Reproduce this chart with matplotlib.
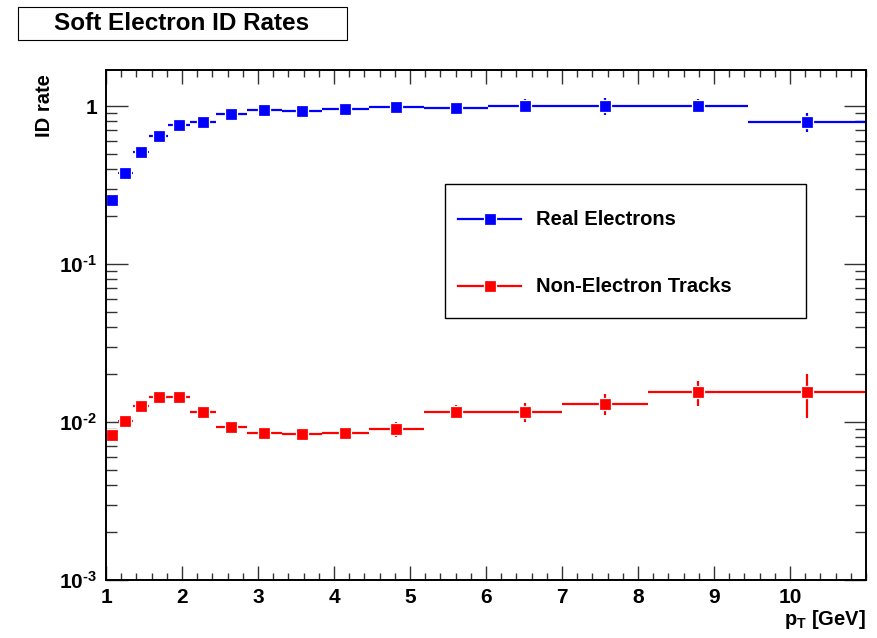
import numpy as np
import matplotlib
matplotlib.use('Agg')
import matplotlib.pyplot as plt
from matplotlib.patches import Rectangle
from matplotlib.lines import Line2D
from matplotlib.ticker import FixedLocator, NullFormatter

plt.rcParams['font.family'] = 'Liberation Sans'
plt.rcParams['font.weight'] = 'bold'
plt.rcParams['mathtext.fontset'] = 'custom'
plt.rcParams['mathtext.rm'] = 'Liberation Sans:bold'
plt.rcParams['mathtext.bf'] = 'Liberation Sans:bold'
plt.rcParams['mathtext.it'] = 'Liberation Sans:bold'

# bin edges in pT [GeV]
bin_edges = [1.0, 1.16, 1.35, 1.57, 1.82, 2.11, 2.45, 2.85, 3.31,
             3.84, 4.46, 5.18, 6.02, 7.0, 8.13, 9.45, 11.0]

real_rate = [0.254, 0.377, 0.51, 0.646, 0.758, 0.79, 0.89, 0.94,
             0.93, 0.96, 0.985, 0.97, 1.0, 1.0, 1.0, 0.79]
real_err = [0.005, 0.006, 0.008, 0.01, 0.01, 0.012, 0.015, 0.02,
            0.02, 0.025, 0.03, 0.04, 0.1, 0.12, 0.1, 0.11]

fake_rate = [0.00828, 0.0102, 0.0126, 0.0143, 0.0143, 0.01157, 0.00934, 0.0085,
             0.0084, 0.00856, 0.00904, 0.0116, 0.0116, 0.0130, 0.0154, 0.0154]
fake_err = [0.0003, 0.0004, 0.0005, 0.0005, 0.0005, 0.0005, 0.0004, 0.0004,
            0.0004, 0.0005, 0.001, 0.0012, 0.0016, 0.002, 0.0027, 0.0048]

x_ticklabels = [str(i) for i in range(1, 11)]
y_ticklabels = [r'$10^{\text{-}3}$', r'$10^{\text{-}2}$', r'$10^{\text{-}1}$', '1']
legend_labels = ['Real Electrons', 'Non-Electron Tracks']
colors = ['#0000ff', '#ff0000']

W, H = 877, 638
fig = plt.figure(figsize=(W / 100, H / 100), dpi=100)
ax = fig.add_axes([106 / W, 1 - 580 / H, 760 / W, 510 / H])

edges = np.array(bin_edges)
centers = 0.5 * (edges[:-1] + edges[1:])
xerr = [centers - edges[:-1], edges[1:] - centers]

for rate, err, c in [(real_rate, real_err, colors[0]), (fake_rate, fake_err, colors[1])]:
    ax.errorbar(centers, rate, xerr=xerr, yerr=err, fmt='s', color=c,
                ms=9.2, mec='white', mew=0.9, elinewidth=1.6, capsize=0)

ax.set_yscale('log')
ax.set_xlim(1, 11)
ax.set_ylim(1e-3, 1.69)

ax.xaxis.set_major_locator(FixedLocator(np.arange(1, 11)))
ax.xaxis.set_minor_locator(FixedLocator(np.arange(1, 11.01, 0.2)))
ax.set_xticklabels(x_ticklabels)

ax.yaxis.set_major_locator(FixedLocator([1e-3, 1e-2, 1e-1, 1]))
ax.yaxis.set_minor_locator(FixedLocator([m * 10.0 ** e for e in range(-3, 1) for m in range(2, 10)]))
ax.yaxis.set_minor_formatter(NullFormatter())
ax.set_yticklabels(y_ticklabels)

ax.tick_params(which='both', direction='in', top=True, right=True, width=1, labelsize=15, color='#333333')
ax.tick_params(axis='x', which='major', length=10, pad=6)
ax.tick_params(axis='x', which='minor', length=5)
ax.tick_params(axis='y', which='major', length=16, pad=6.5)
ax.tick_params(axis='y', which='minor', length=8)
for s in ax.spines.values():
    s.set_linewidth(1.4)

fig.text(866 / W, 1 - 625 / H, r'$p_{T}$ [GeV]', ha='right', va='baseline', fontsize=14.5,
         fontweight='bold')
fig.text(45 / W, 1 - 74 / H, 'ID rate', rotation=90, ha='center', va='top', fontsize=14.5, fontweight='bold')

# title box
fig.patches.append(Rectangle((18 / W, 1 - 40 / H), 329 / W, 33 / H, transform=fig.transFigure,
                             facecolor='white', edgecolor='black', lw=0.8))
fig.text(182 / W, 1 - 24 / H, 'Soft Electron ID Rates', ha='center', va='center',
         fontsize=17.5, fontweight='bold')

# legend box
fig.patches.append(Rectangle((445 / W, 1 - 318 / H), 361 / W, 134 / H, transform=fig.transFigure,
                             facecolor='white', edgecolor='black', lw=1.0, zorder=5))
for ypix, lab, c in zip([219, 286], legend_labels, colors):
    yf = 1 - ypix / H
    fig.lines.append(Line2D([458 / W, 521 / W], [yf, yf], transform=fig.transFigure,
                            color=c, lw=1.6, zorder=6))
    fig.lines.append(Line2D([490 / W], [yf], transform=fig.transFigure, marker='s',
                            color=c, ms=9.2, mec='white', mew=0.9, zorder=7))
    fig.text(536 / W, yf, lab, ha='left', va='center', fontsize=14.5, fontweight='bold', zorder=8)

fig.savefig('out.png', dpi=100)
